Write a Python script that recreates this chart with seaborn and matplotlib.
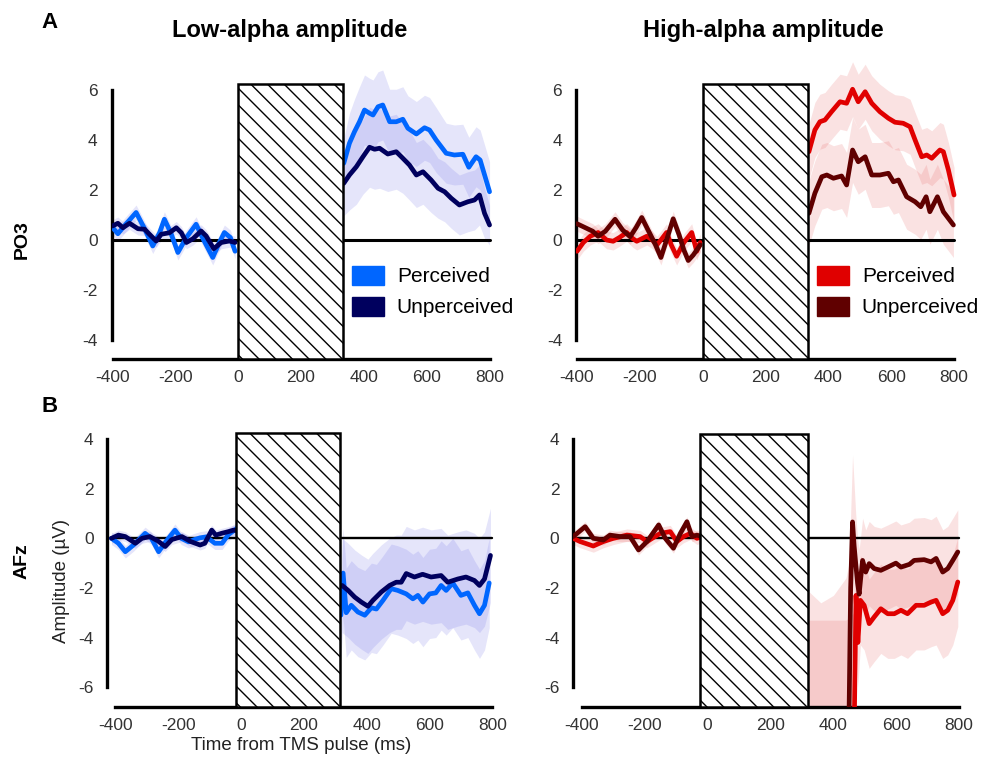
import matplotlib
matplotlib.use("Agg")
import matplotlib.pyplot as plt
import matplotlib.patches as mpatches
import seaborn as sns
import pandas as pd

# -----------------------------------------------------------------------------
# Grand-average ERPs (µV): time (ms), mean, SEM
# -----------------------------------------------------------------------------

# PO3, low-alpha amplitude
po3_low_perc_pre_t = [-400, -383, -360, -325, -300, -272, -250, -235, -215, -192, -165, -134, -110, -81, -60, -44, -25, -10]
po3_low_perc_pre_v = [0.5, 0.25, 0.6, 1.1, 0.5, -0.24, 0.3, 0.83, 0.3, -0.5, 0.1, 0.63, 0.0, -0.7, -0.1, 0.3, 0.1, -0.45]
po3_low_perc_pre_s = [0.3] * 18
po3_low_unp_pre_t = [-400, -383, -367, -346, -319, -298, -277, -261, -245, -219, -197, -181, -165, -144, -118, -102, -78, -54, -28, -10]
po3_low_unp_pre_v = [0.56, 0.67, 0.49, 0.67, 0.45, 0.43, 0.16, -0.04, 0.23, 0.29, 0.49, 0.29, -0.1, 0.05, 0.36, 0.16, -0.35, -0.1, -0.04, -0.1]
po3_low_unp_pre_s = [0.25] * 20
po3_low_perc_post_t = [336, 354, 370, 386, 402, 418, 429, 445, 460, 482, 503, 524, 540, 567, 593, 609, 630, 662, 688, 715, 734, 757, 770, 800]
po3_low_perc_post_v = [3.07, 3.87, 4.33, 4.73, 5.2, 5.07, 5.0, 5.33, 5.4, 4.73, 4.73, 4.83, 4.47, 4.24, 4.49, 4.4, 4.0, 3.47, 3.4, 3.43, 2.91, 3.33, 3.2, 1.93]
po3_low_perc_post_s = [1.0, 1.2, 1.3, 1.4, 1.4, 1.4, 1.4, 1.4, 1.4, 1.3, 1.3, 1.3, 1.3, 1.3, 1.3, 1.3, 1.3, 1.2, 1.2, 1.2, 1.2, 1.2, 1.2, 1.2]
po3_low_unp_post_t = [336, 354, 376, 397, 418, 434, 450, 476, 503, 524, 545, 567, 588, 614, 636, 657, 678, 704, 731, 752, 768, 784, 800]
po3_low_unp_post_v = [2.27, 2.6, 2.93, 3.33, 3.71, 3.63, 3.67, 3.44, 3.53, 3.27, 3.0, 2.6, 2.73, 2.4, 2.07, 1.93, 1.67, 1.4, 1.53, 1.6, 1.8, 1.07, 0.6]
po3_low_unp_post_s = [1.3, 1.4, 1.5, 1.5, 1.6, 1.6, 1.6, 1.5, 1.5, 1.4, 1.4, 1.3, 1.3, 1.3, 1.2, 1.2, 1.2, 1.2, 1.2, 1.2, 1.2, 1.0, 0.8]

# PO3, high-alpha amplitude
po3_high_perc_pre_t = [-400, -380, -358, -333, -306, -285, -265, -242, -222, -210, -178, -160, -146, -130, -115, -100, -83, -60, -35, -19, -8]
po3_high_perc_pre_v = [-0.45, -0.1, 0.15, 0.3, 0.0, -0.05, 0.1, 0.3, 0.05, -0.05, 0.15, 0.0, -0.2, 0.05, 0.3, -0.2, -0.65, -0.1, 0.3, -0.45, -0.1]
po3_high_perc_pre_s = [0.35] * 21
po3_high_unp_pre_t = [-400, -375, -350, -333, -310, -279, -255, -231, -212, -194, -168, -150, -133, -115, -94, -75, -60, -46, -30, -8]
po3_high_unp_pre_v = [0.65, 0.5, 0.35, 0.15, 0.35, 0.83, 0.4, 0.13, 0.5, 0.9, 0.25, -0.2, -0.7, 0.0, 0.85, 0.2, -0.4, -0.82, -0.6, -0.2]
po3_high_unp_pre_s = [0.3] * 20
po3_high_perc_post_t = [338, 357, 373, 389, 410, 437, 458, 477, 495, 517, 538, 564, 591, 612, 638, 660, 676, 697, 713, 729, 755, 766, 782, 800]
po3_high_perc_post_v = [3.53, 4.4, 4.73, 4.8, 5.13, 5.53, 5.47, 6.03, 5.53, 5.93, 5.47, 5.13, 4.87, 4.71, 4.67, 4.53, 4.0, 3.33, 3.4, 3.27, 3.6, 3.53, 2.8, 1.8]
po3_high_perc_post_s = [1.1] * 24
po3_high_unp_post_t = [338, 357, 379, 395, 416, 442, 458, 477, 495, 517, 538, 564, 591, 607, 623, 649, 676, 694, 711, 723, 747, 766, 798]
po3_high_unp_post_v = [1.07, 1.87, 2.53, 2.6, 2.47, 2.56, 2.2, 3.6, 3.13, 3.33, 2.6, 2.6, 2.67, 2.33, 2.4, 1.73, 1.53, 1.33, 1.73, 1.13, 1.73, 1.13, 0.6]
po3_high_unp_post_s = [1.3] * 23

# AFz, low-alpha amplitude
afz_low_perc_pre_t = [-412, -390, -368, -342, -305, -285, -262, -240, -210, -190, -167, -148, -130, -110, -83, -60, -40, -24, -8]
afz_low_perc_pre_v = [0.0, -0.2, -0.54, -0.27, 0.2, 0.0, -0.54, -0.15, 0.33, 0.0, -0.14, -0.05, 0.02, 0.06, -0.2, -0.2, 0.15, 0.3, 0.45]
afz_low_perc_pre_s = [0.25] * 19
afz_low_unp_pre_t = [-412, -390, -368, -336, -315, -290, -265, -241, -220, -188, -160, -130, -115, -93, -80, -62, -40, -24, -8]
afz_low_unp_pre_v = [0.0, 0.13, 0.07, -0.2, 0.0, 0.07, -0.1, -0.33, -0.05, 0.07, -0.13, -0.27, -0.2, 0.33, 0.13, 0.2, 0.27, 0.33, 0.3]
afz_low_unp_pre_s = [0.2] * 19
afz_low_perc_post_t = [318, 325, 335, 351, 372, 394, 415, 431, 452, 478, 499, 526, 547, 563, 579, 600, 620, 637, 653, 674, 700, 722, 743, 759, 775, 790]
afz_low_perc_post_v = [-3.1, -1.4, -3.0, -2.7, -2.97, -3.1, -2.8, -2.85, -2.5, -2.03, -2.1, -2.24, -2.44, -2.3, -2.57, -2.24, -2.2, -1.9, -2.1, -1.8, -2.3, -2.2, -2.7, -3.04, -2.7, -1.8]
afz_low_perc_post_s = [1.8] * 26
afz_low_unp_post_t = [322, 341, 362, 383, 404, 420, 447, 473, 494, 510, 526, 552, 578, 605, 637, 658, 690, 716, 743, 759, 775, 794]
afz_low_unp_post_v = [-1.9, -2.1, -2.37, -2.57, -2.74, -2.5, -2.16, -1.9, -1.77, -1.77, -1.42, -1.56, -1.45, -1.56, -1.5, -1.77, -1.64, -1.56, -1.7, -1.9, -1.64, -0.69]
afz_low_unp_post_s = [1.9] * 22

# AFz, high-alpha amplitude
afz_high_perc_pre_t = [-428, -406, -364, -332, -300, -257, -215, -193, -151, -119, -98, -77, -55, -34, -15]
afz_high_perc_pre_v = [0.0, -0.13, -0.31, -0.13, 0.0, 0.13, 0.07, -0.13, 0.2, 0.27, -0.13, 0.07, 0.2, 0.0, 0.1]
afz_high_perc_pre_s = [0.25] * 15
afz_high_unp_pre_t = [-428, -390, -364, -332, -311, -279, -247, -220, -193, -156, -135, -109, -87, -66, -50, -34, -15]
afz_high_unp_pre_v = [0.07, 0.47, 0.0, -0.07, 0.13, 0.07, 0.07, -0.47, -0.13, 0.54, 0.0, -0.4, 0.2, 0.67, 0.07, 0.13, 0.05]
afz_high_unp_pre_s = [0.2] * 17
afz_high_perc_post_t = [318, 440, 466, 472, 478, 486, 498, 514, 530, 551, 573, 594, 615, 636, 663, 689, 711, 727, 748, 764, 780, 796]
afz_high_perc_post_v = [-12, -12, -8, -2.3, -4.2, -2.5, -2.7, -3.44, -3.17, -2.84, -3.04, -3.04, -2.9, -3.04, -2.7, -2.7, -2.57, -2.5, -3.04, -2.9, -2.5, -1.76]
afz_high_perc_post_s = [8.7, 8.7, 5.0, 1.8, 1.8, 1.8, 1.8, 1.8, 1.8, 1.8, 1.8, 1.8, 1.8, 1.8, 1.8, 1.8, 1.8, 1.8, 1.8, 1.8, 1.8, 1.8]
afz_high_unp_post_t = [318, 360, 400, 440, 450, 455, 461, 466, 471, 477, 482, 487, 493, 503, 514, 530, 551, 573, 599, 615, 642, 657, 689, 711, 727, 748, 764, 780, 796]
afz_high_unp_post_v = [-12, -12, -12, -12, -7, -2, 0.66, -0.3, -1.0, -1.8, -2.25, -1.6, -0.89, -1.36, -1.02, -1.22, -1.29, -1.16, -1.0, -1.16, -1.05, -0.89, -0.86, -0.95, -0.81, -1.36, -1.22, -0.89, -0.55]
afz_high_unp_post_s = [9.9, 9.4, 9.7, 10.4, 6.0, 3.0, 2.7, 2.5, 2.0, 1.8, 1.8, 1.7, 1.7, 1.7, 1.7, 1.7, 1.7, 1.7, 1.7, 1.7, 1.7, 1.7, 1.7, 1.7, 1.7, 1.7, 1.7, 1.7, 1.7]

CONDITIONS = ["Perceived", "Unperceived"]
X_TICKS = [-400, -200, 0, 200, 400, 600, 800]
PO3_TICKS = [-4, -2, 0, 2, 4, 6]
AFZ_TICKS = [-6, -4, -2, 0, 2, 4]

LOW_COLORS = ["#0066FF", "#00005E"]
HIGH_COLORS = ["#E00000", "#600000"]
LOW_BAND = "#7070E8"
HIGH_BAND = "#E86060"

W, H = 982, 769

sns.set_theme(style="white")
plt.rcParams["font.family"] = ["Liberation Sans", "DejaVu Sans"]
plt.rcParams["axes.unicode_minus"] = False
plt.rcParams["hatch.linewidth"] = 1.0
plt.rcParams["text.color"] = "black"


def px_axes(fig, left, right, top, bottom):
    return fig.add_axes([left / W, 1 - bottom / H, (right - left) / W, (bottom - top) / H])


def draw_panel(ax, segs, colors, band, xlim, ylim, ybounds, yticks, box, zero_lw):
    rows = []
    for cond, seg, t, v, s in segs:
        lo = [a - b for a, b in zip(v, s)]
        hi = [a + b for a, b in zip(v, s)]
        ax.fill_between(t, lo, hi, color=band, alpha=0.18, lw=0, zorder=1)
        rows += [{"t": ti, "v": vi, "cond": cond, "seg": cond + seg} for ti, vi in zip(t, v)]
    df = pd.DataFrame(rows)

    # zero reference line
    ax.plot([xlim[0], 800], [0, 0], color="black", lw=zero_lw, zorder=1.5)

    sns.lineplot(data=df, x="t", y="v", hue="cond", hue_order=CONDITIONS,
                 units="seg", estimator=None, sort=False, palette=colors,
                 linewidth=3.4, legend=False, ax=ax, zorder=3)

    # TMS artefact window
    x0, x1, top = box
    ax.add_patch(mpatches.Rectangle((x0, ylim[0]), x1 - x0, top - ylim[0],
                                    facecolor="white", edgecolor="black",
                                    hatch="\\\\", lw=1.8, zorder=5))

    ax.set_xlim(*xlim)
    ax.set_ylim(*ylim)
    ax.set_xticks(X_TICKS)
    ax.set_yticks(yticks)
    ax.set_xlabel("")
    ax.set_ylabel("")
    for side in ["top", "right"]:
        ax.spines[side].set_visible(False)
    for side in ["left", "bottom"]:
        ax.spines[side].set_linewidth(2.4)
        ax.spines[side].set_color("black")
    ax.spines["left"].set_bounds(*ybounds)
    ax.spines["bottom"].set_bounds(-400, 800)
    ax.tick_params(direction="in", length=5, width=2.4, color="black",
                   labelsize=12.5, labelcolor="#333333")
    ax.tick_params(axis="y", pad=10)
    ax.tick_params(axis="x", pad=8)
    ax.patch.set_alpha(0)


fig = plt.figure(figsize=(W / 100, H / 100), dpi=100)

ax_tl = px_axes(fig, 111.6, 492.7, 57.5, 358.75)
ax_tr = px_axes(fig, 576.1, 957.2, 57.5, 358.75)
ax_bl = px_axes(fig, 107.4, 495.5, 426.7, 707.0)
ax_br = px_axes(fig, 573.2, 962.2, 426.7, 707.0)

draw_panel(ax_tl, [
    ("Perceived", "pre", po3_low_perc_pre_t, po3_low_perc_pre_v, po3_low_perc_pre_s),
    ("Perceived", "post", po3_low_perc_post_t, po3_low_perc_post_v, po3_low_perc_post_s),
    ("Unperceived", "pre", po3_low_unp_pre_t, po3_low_unp_pre_v, po3_low_unp_pre_s),
    ("Unperceived", "post", po3_low_unp_post_t, po3_low_unp_post_v, po3_low_unp_post_s),
], LOW_COLORS, LOW_BAND, (-403, 810), (-4.75, 7.3), (-4, 6), PO3_TICKS, (0, 335, 6.24), 2.2)

draw_panel(ax_tr, [
    ("Perceived", "pre", po3_high_perc_pre_t, po3_high_perc_pre_v, po3_high_perc_pre_s),
    ("Perceived", "post", po3_high_perc_post_t, po3_high_perc_post_v, po3_high_perc_post_s),
    ("Unperceived", "pre", po3_high_unp_pre_t, po3_high_unp_pre_v, po3_high_unp_pre_s),
    ("Unperceived", "post", po3_high_unp_post_t, po3_high_unp_post_v, po3_high_unp_post_s),
], HIGH_COLORS, HIGH_BAND, (-403, 810), (-4.75, 7.3), (-4, 6), PO3_TICKS, (0, 336, 6.24), 2.2)

draw_panel(ax_bl, [
    ("Perceived", "pre", afz_low_perc_pre_t, afz_low_perc_pre_v, afz_low_perc_pre_s),
    ("Perceived", "post", afz_low_perc_post_t, afz_low_perc_post_v, afz_low_perc_post_s),
    ("Unperceived", "pre", afz_low_unp_pre_t, afz_low_unp_pre_v, afz_low_unp_pre_s),
    ("Unperceived", "post", afz_low_unp_post_t, afz_low_unp_post_v, afz_low_unp_post_s),
], LOW_COLORS, LOW_BAND, (-425, 810), (-6.8, 4.5), (-6, 4), AFZ_TICKS, (-15, 315, 4.25), 1.7)

draw_panel(ax_br, [
    ("Perceived", "pre", afz_high_perc_pre_t, afz_high_perc_pre_v, afz_high_perc_pre_s),
    ("Perceived", "post", afz_high_perc_post_t, afz_high_perc_post_v, afz_high_perc_post_s),
    ("Unperceived", "pre", afz_high_unp_pre_t, afz_high_unp_pre_v, afz_high_unp_pre_s),
    ("Unperceived", "post", afz_high_unp_post_t, afz_high_unp_post_v, afz_high_unp_post_s),
], HIGH_COLORS, HIGH_BAND, (-428, 810), (-6.8, 4.5), (-6, 4), AFZ_TICKS, (-25, 320, 4.2), 1.7)

# legends (top row only)
for ax, colors, x_px in [(ax_tl, LOW_COLORS, 352), (ax_tr, HIGH_COLORS, 817)]:
    handles = [mpatches.Patch(color=c, label=l) for c, l in zip(colors, CONDITIONS)]
    ax.legend(handles=handles, loc="upper left", bbox_to_anchor=(x_px / W, 1 - 266 / H),
              bbox_transform=fig.transFigure, frameon=False, fontsize=15,
              handlelength=1.55, handleheight=1.0, handletextpad=0.6,
              labelspacing=0.5, borderpad=0, borderaxespad=0)

# titles and labels
fig.text(290 / W, 1 - 31 / H, "Low-alpha amplitude", ha="center", va="center",
         fontsize=17, fontweight="bold")
fig.text(763 / W, 1 - 31 / H, "High-alpha amplitude", ha="center", va="center",
         fontsize=17, fontweight="bold")
fig.text(50 / W, 1 - 23 / H, "A", ha="center", va="center", fontsize=16, fontweight="bold")
fig.text(50 / W, 1 - 407 / H, "B", ha="center", va="center", fontsize=16, fontweight="bold")
fig.text(22 / W, 1 - 240 / H, "PO3", ha="center", va="center", rotation=90,
         fontsize=14, fontweight="bold")
fig.text(22 / W, 1 - 561 / H, "AFz", ha="center", va="center", rotation=90,
         fontsize=14, fontweight="bold")
fig.text(62 / W, 1 - 581 / H, "Amplitude (µV)", ha="center", va="center", rotation=90,
         fontsize=13.5, color="#222222")
fig.text(301 / W, 1 - 745 / H, "Time from TMS pulse (ms)", ha="center", va="center",
         fontsize=13.5, color="#222222")

fig.savefig("out.png", dpi=100)
